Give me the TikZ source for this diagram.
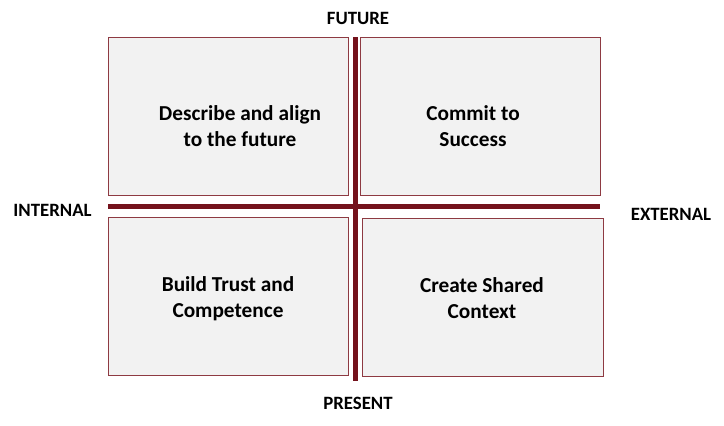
\documentclass[tikz,border=0pt]{standalone}
\usepackage{fontspec}
\setmainfont{Carlito}
\definecolor{axisred}{HTML}{74121C}
\definecolor{boxedge}{HTML}{8E3A42}
\definecolor{boxfill}{HTML}{F2F2F2}
\begin{document}
\begin{tikzpicture}[x=1pt,y=-1pt,
  quad/.style={draw=boxedge, line width=0.9pt, fill=boxfill, inner sep=0pt, outer sep=0pt},
  quadtext/.style={font=\fontsize{21.3}{26}\selectfont\bfseries, align=center},
  axislabel/.style={font=\fontsize{18.8}{22}\selectfont\bfseries, inner sep=0pt},
  axis/.style={draw=axisred, line width=5pt}]
\useasboundingbox (0,0) rectangle (724,426);
\fill[white] (0,0) rectangle (724,426);
% quadrants
\draw[quad] (108,37) rectangle (348,195);
\node[quadtext] (q1) at (240,126) {Describe and align\\to the future};
\draw[quad] (360,37) rectangle (600,195);
\node[quadtext] (q2) at (473,126) {Commit to\\Success};
\draw[quad] (108,217) rectangle (348,375);
\node[quadtext] (q3) at (228,299) {Build Trust and\\Competence};
\draw[quad] (362,218) rectangle (603,376);
\node[quadtext] (q4) at (482,298) {Create Shared\\Context};
% axes
\coordinate (vt) at (355,37);
\coordinate (vb) at (355,381);
\coordinate (hl) at (108,206);
\coordinate (hr) at (600,206);
\draw[axis] (hl) -- (hr);
\draw[axis] (vt) -- (vb);
% labels
\node[axislabel] (future) at (358,18) {FUTURE};
\node[axislabel] (present) at (358,403) {PRESENT};
\node[axislabel] (internal) at (52.5,210) {INTERNAL};
\node[axislabel] (external) at (671,214.5) {EXTERNAL};
\end{tikzpicture}
\end{document}
